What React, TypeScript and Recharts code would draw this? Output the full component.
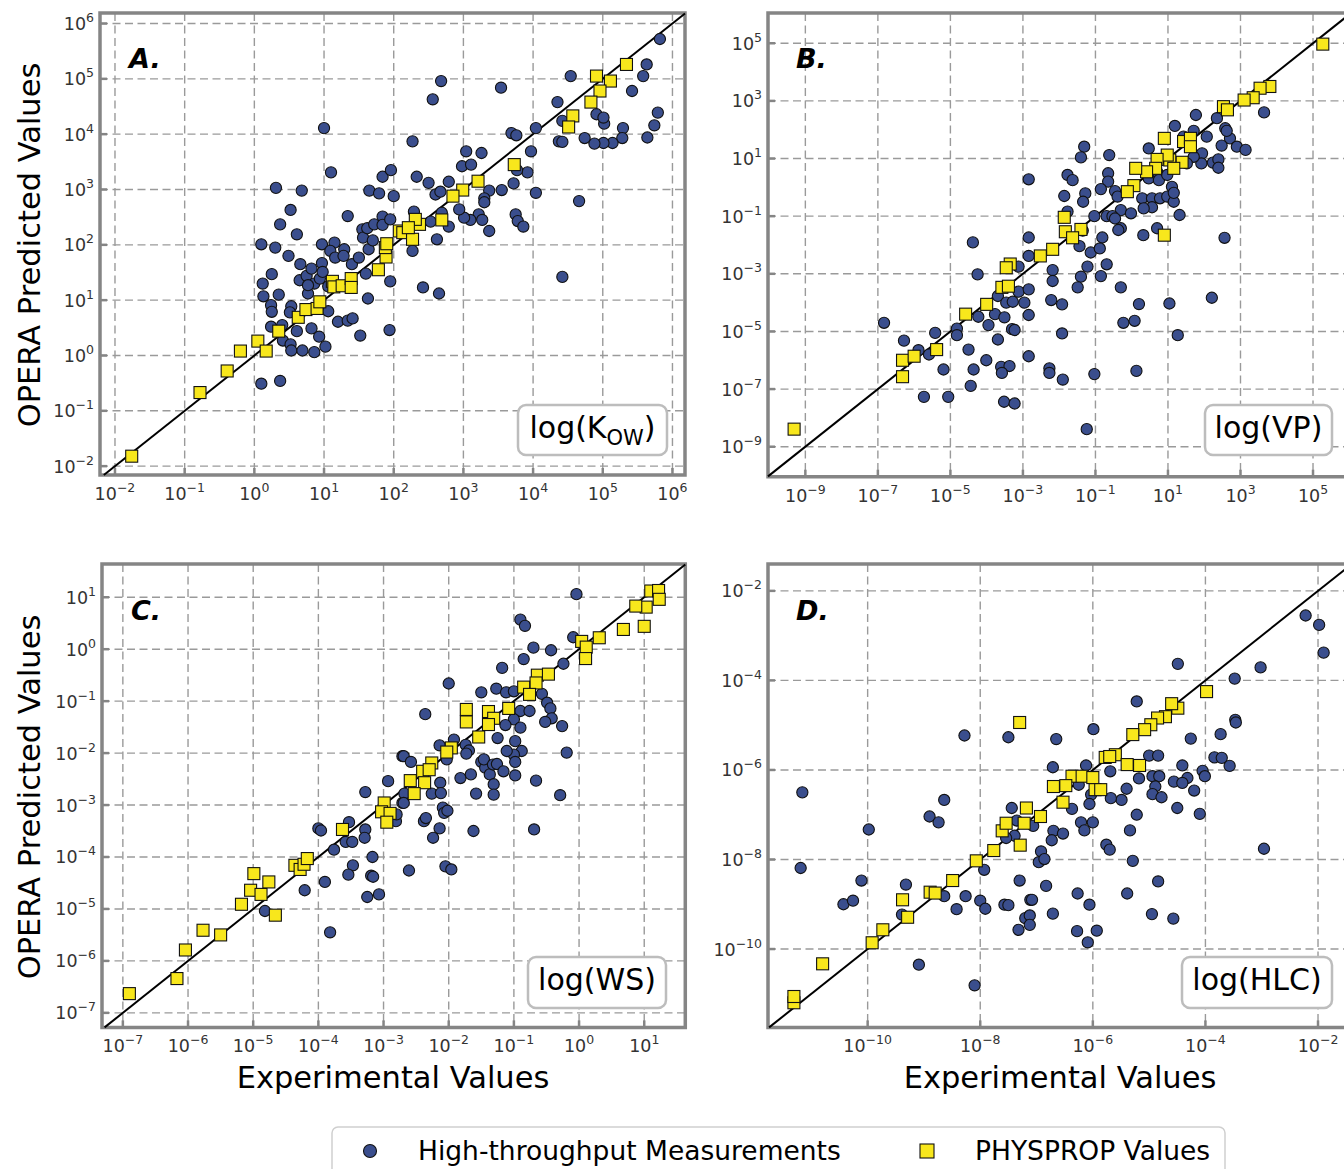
import React from "react";
import {
  CartesianGrid,
  ReferenceArea,
  ReferenceLine,
  Scatter,
  ScatterChart,
  XAxis,
  YAxis,
} from "recharts";

type Pt = [number, number];

// all values are log10 of the measured / predicted quantity

// A. log(Kow)
const kowTicks = [-2, -1, 0, 1, 2, 3, 4, 5, 6];
const kowMeasured: Pt[] = [
  [1.0, 4.11], [1.1, 3.31], [0.31, 3.03], [0.68, 2.98], [0.52, 2.63], [0.37, 2.37], [0.61, 2.19], [0.1, 2.01],
  [0.3, 1.95], [0.49, 1.8], [0.66, 1.65], [0.25, 1.47], [0.12, 1.3], [0.13, 1.07], [0.35, 1.1], [0.24, 0.91],
  [0.25, 0.79], [0.53, 0.89], [0.51, 0.78], [0.24, 0.52], [0.4, 0.55], [0.41, 0.27], [0.52, 0.2], [0.61, 0.44],
  [0.53, 0.09], [0.69, 0.09], [0.86, 0.06], [1.02, 0.16], [0.93, 0.34], [0.82, 0.49], [0.1, -0.51], [0.37, -0.46],
  [0.65, 1.36], [0.75, 1.44], [0.82, 1.57], [0.86, 1.3], [0.77, 1.12], [0.94, 1.39], [0.97, 1.67], [0.98, 1.51],
  [1.06, 1.25], [0.77, 1.27], [0.97, 2.01], [1.15, 2.04], [1.09, 1.89], [1.16, 1.77], [1.29, 1.92], [1.28, 1.8],
  [1.4, 1.65], [1.5, 1.77], [1.34, 2.52], [1.55, 2.28], [1.56, 2.13], [1.64, 1.92], [1.62, 2.3], [1.72, 2.37],
  [1.84, 2.51], [1.84, 2.36], [1.95, 2.46], [1.65, 2.98], [1.79, 2.93], [1.84, 3.23], [1.96, 3.35], [2.0, 2.88],
  [1.6, 1.48], [1.63, 1.03], [1.95, 1.34], [1.94, 0.46], [1.52, 0.36], [1.2, 0.61], [1.34, 0.63], [1.41, 0.67],
  [1.06, 0.8], [1.7, 2.08],
  [5.82, 5.72], [5.63, 5.26], [5.58, 5.05], [5.42, 4.78], [5.79, 4.39], [5.74, 4.16], [5.64, 3.94], [5.29, 4.11],
  [5.28, 3.93], [5.14, 3.84], [5.01, 3.84], [4.88, 3.83], [4.74, 3.93], [5.02, 4.19], [4.91, 4.36], [5.01, 4.3],
  [4.54, 5.05], [4.35, 4.58], [4.42, 4.24], [4.37, 3.87], [4.42, 3.86], [4.42, 1.42], [4.66, 2.79], [4.04, 4.11],
  [4.04, 2.94], [3.97, 3.69], [3.92, 3.31], [3.77, 3.35], [3.69, 4.02], [3.76, 3.98], [3.72, 3.11], [3.75, 2.55],
  [3.78, 2.43], [3.86, 2.33], [3.54, 4.84], [3.26, 3.66], [3.04, 3.69], [2.98, 3.42], [3.11, 3.45], [3.37, 2.98],
  [3.3, 2.84], [3.3, 2.77], [3.55, 2.99], [3.22, 2.55], [3.27, 2.45], [3.37, 2.25], [3.1, 2.45], [3.01, 2.49],
  [2.94, 2.64], [2.68, 4.96], [2.56, 4.63], [2.27, 3.87], [2.33, 3.23], [2.5, 3.12], [2.6, 2.91], [2.79, 3.14],
  [2.67, 2.96], [2.69, 2.58], [2.79, 2.33], [2.62, 2.1], [2.53, 2.42], [2.29, 2.6], [2.27, 1.89], [2.42, 1.23],
  [2.65, 1.12],
];
const kowPhysprop: Pt[] = [
  [-1.76, -1.82], [-0.78, -0.67], [-0.39, -0.28], [-0.2, 0.08], [0.05, 0.26], [0.17, 0.08], [0.35, 0.44],
  [0.63, 0.69], [0.74, 0.83], [0.9, 0.85], [0.94, 0.97], [1.12, 1.34], [1.14, 1.24], [1.26, 1.26], [1.39, 1.39],
  [1.39, 1.23], [1.78, 1.55], [1.89, 1.78], [1.88, 1.95], [1.9, 2.02], [2.08, 2.25],
  [5.34, 5.26], [4.91, 5.05], [5.11, 4.96], [4.96, 4.78], [4.83, 4.58], [4.57, 4.33], [4.51, 4.13], [3.73, 3.45],
  [3.21, 3.15], [2.99, 2.99], [2.85, 2.88], [2.69, 2.45], [2.37, 2.37], [2.31, 2.46], [2.13, 2.22], [2.27, 2.1],
  [2.21, 2.31],
];

// B. log(VP)
const vpTicks = [-9, -7, -5, -3, -1, 1, 3, 5];
const vpMeasured: Pt[] = [
  [-6.83, -4.7], [-6.28, -5.32], [-5.88, -5.65], [-5.59, -5.8], [-5.42, -5.05], [-5.19, -6.32], [-5.73, -7.27],
  [-5.06, -7.27], [-4.82, -4.9], [-4.82, -5.13], [-4.5, -5.63], [-4.44, -6.89], [-4.36, -6.32], [-4.38, -1.91],
  [-4.25, -3.02], [-4.23, -4.49], [-4.01, -6.0], [-3.95, -4.78], [-3.77, -4.4], [-3.69, -5.28], [-3.51, -4.51],
  [-3.69, -3.77], [-3.46, -4.0], [-3.28, -3.97], [-3.12, -3.62], [-2.96, -4.0], [-3.3, -4.92], [-3.23, -4.95],
  [-3.6, -6.23], [-3.37, -6.2], [-3.58, -6.44], [-3.52, -7.44], [-3.23, -7.5], [-3.12, -2.75], [-2.84, 0.28],
  [-2.84, -1.74], [-2.84, -2.38], [-2.84, -4.43], [-2.84, -5.86], [-2.84, -3.54],
  [-1.31, 1.41], [-1.4, 1.04], [-0.62, 1.12], [-1.77, 0.43], [-1.63, 0.25], [-0.65, 0.49], [-0.65, 0.2],
  [-0.85, -0.06], [-1.86, -0.3], [-1.28, -0.21], [-1.34, -0.5], [-1.77, -0.84], [-1.03, -1.0], [-0.69, -1.0],
  [-0.46, -0.13], [-0.39, -0.32], [-0.3, -0.79], [-0.53, -1.0], [-0.46, -1.08], [-0.02, -0.9], [-0.3, -1.42],
  [-0.37, -1.48], [-0.81, -1.74], [-1.35, -1.5], [-1.44, -2.04], [-1.13, -2.26], [-0.88, -2.12], [-1.22, -2.75],
  [-1.4, -3.1], [-0.85, -3.08], [-0.69, -2.67], [-1.49, -3.47], [-2.18, -2.87], [-2.18, -3.25], [-2.22, -3.91],
  [-1.92, -4.06], [-1.92, -5.07], [-2.27, -6.28], [-2.27, -6.44], [-1.9, -6.67], [-1.03, -6.48], [-1.24, -8.39],
  [-0.3, -3.47], [0.2, -4.05], [-0.23, -4.7], [0.08, -4.63], [1.27, -5.13], [1.04, -4.03], [0.13, -6.37],
  [2.21, -3.83], [2.56, -1.75], [0.32, -1.66], [0.7, -1.42], [0.29, -0.38], [0.56, -0.38], [0.78, -0.38],
  [0.98, -0.32], [1.16, -0.5], [1.32, -0.96], [0.56, -0.69], [0.33, -0.73], [0.47, 1.35], [0.47, 0.31],
  [0.7, 0.54], [0.75, 0.25], [0.98, 0.43], [1.11, 0.02], [1.16, -0.19], [1.19, 2.13], [1.43, 1.76], [1.71, 1.96],
  [1.77, 2.51], [2.07, 1.76], [1.94, 1.18], [1.92, 0.83], [2.24, 0.86], [2.39, 0.97], [2.39, 0.68], [2.35, 2.4],
  [2.58, 2.05], [2.71, 1.7], [2.48, 1.45], [2.9, 1.41], [3.14, 1.3], [2.62, 1.96], [3.65, 2.6], [1.71, 1.06],
  [1.52, 0.83],
];
const vpPhysprop: Pt[] = [
  [-9.31, -8.39], [-6.32, -6.57], [-6.32, -6.0], [-6.0, -5.86], [-5.38, -5.63], [-4.58, -4.4], [-4.0, -4.06],
  [-3.58, -3.47], [-3.4, -3.43], [-3.35, -2.66], [-3.46, -2.79],
  [5.27, 4.97], [3.81, 3.5], [3.54, 3.44], [3.35, 3.11], [3.1, 3.03], [2.53, 2.8], [2.64, 2.69], [0.9, 1.7],
  [1.43, 1.59], [1.62, 1.7], [1.62, 1.41], [1.39, 0.87], [1.05, 0.95], [0.98, 1.12], [1.16, 0.66], [0.7, 0.97],
  [0.66, 0.66], [0.41, 0.54], [0.11, 0.66], [0.06, 0.06], [-0.12, -0.15], [0.9, -1.66], [-1.86, -1.04],
  [-1.83, -1.54], [-1.4, -1.46], [-1.63, -1.75], [-2.18, -2.15], [-2.52, -2.38],
];

// C. log(WS)
const wsTicks = [-7, -6, -5, -4, -3, -2, -1, 0, 1];
const wsMeasured: Pt[] = [
  [-4.82, -5.04], [-4.21, -4.64], [-3.9, -4.48], [-3.82, -5.45], [-4.0, -3.45], [-3.96, -3.49], [-3.76, -3.86],
  [-3.53, -3.33], [-3.58, -3.71], [-3.48, -3.71], [-3.47, -4.16], [-3.54, -4.34], [-3.28, -2.75], [-3.28, -3.47],
  [-3.29, -3.63], [-3.17, -4.0], [-3.19, -4.36], [-3.16, -4.38], [-3.25, -4.77], [-3.07, -4.72], [-2.93, -2.54],
  [-2.81, -3.31], [-2.71, -2.06], [-2.71, -2.96],
  [-0.04, 1.06], [-0.9, 0.57], [-0.83, 0.45], [-0.7, 0.03], [-0.43, -0.02], [-0.85, -0.19], [-1.18, -0.36],
  [-0.24, -0.28], [-0.09, 0.23], [-2.0, -0.66], [-1.5, -0.83], [-1.27, -0.76], [-1.12, -0.83], [-1.0, -0.81],
  [-0.57, -0.86], [-0.49, -1.03], [-0.44, -1.14], [-0.42, -1.33], [-0.52, -1.4], [-0.26, -1.48], [-0.9, -1.19],
  [-0.76, -1.19], [-1.0, -1.35], [-0.9, -1.51], [-1.13, -1.46], [-1.25, -1.71], [-0.98, -1.77], [-0.88, -1.96],
  [-1.0, -2.03], [-1.11, -1.96], [-0.19, -1.99], [-2.36, -1.25], [-2.14, -1.85], [-1.74, -1.84], [-1.69, -1.95],
  [-2.03, -2.12], [-1.92, -1.74], [-2.69, -2.06], [-2.58, -2.17], [-1.82, -2.48], [-1.66, -2.41], [-1.5, -2.17],
  [-1.44, -2.28], [-1.37, -2.41], [-1.31, -2.6], [-1.31, -2.8], [-1.46, -2.12], [-1.32, -2.22], [-1.26, -2.21],
  [-1.16, -2.35], [-0.98, -2.43], [-0.98, -2.17], [-0.66, -2.53], [-0.29, -2.81], [-1.58, -2.78], [-0.69, -3.47],
  [-1.62, -3.5], [-2.09, -3.05], [-2.07, -3.15], [-2.02, -3.11], [-2.14, -3.45], [-2.24, -3.63], [-2.38, -3.31],
  [-2.35, -3.25], [-2.61, -4.26], [-2.05, -4.18], [-1.96, -4.24], [-2.13, -2.57], [-2.26, -2.78], [-2.12, -2.77],
  [-2.68, -2.78], [-2.69, -2.96], [-2.8, -3.18], [-1.73, -2.01],
];
const wsPhysprop: Pt[] = [
  [-6.9, -6.63], [-6.17, -6.34], [-6.04, -5.79], [-5.77, -5.41], [-5.5, -5.5], [-5.18, -4.91], [-5.04, -4.64],
  [-4.99, -4.32], [-4.88, -4.72], [-4.76, -4.48], [-4.66, -5.12], [-4.36, -4.16], [-4.28, -4.24], [-4.22, -4.14],
  [-4.17, -4.03], [-3.63, -3.47], [-2.99, -2.96], [-3.03, -3.13], [-2.9, -3.16], [-2.95, -3.33],
  [1.1, 1.12], [1.22, 1.13], [1.23, 0.96], [1.03, 0.81], [0.87, 0.83], [1.0, 0.44], [0.68, 0.38], [0.31, 0.22],
  [0.04, 0.15], [0.11, 0.04], [0.1, -0.18], [-0.64, -0.5], [-0.47, -0.48], [-0.66, -0.65], [-0.85, -0.73],
  [-0.76, -0.87], [-1.08, -1.14], [-1.73, -1.16], [-1.73, -1.4], [-1.39, -1.2], [-1.31, -1.33], [-1.39, -1.45],
  [-1.54, -1.69], [-1.96, -1.9], [-2.03, -1.98], [-2.26, -2.19], [-2.4, -2.35], [-2.3, -2.32], [-2.37, -2.57],
  [-2.59, -2.53], [-2.53, -2.78],
];

// D. log(HLC)
const hlcTicks = [-10, -8, -6, -4, -2];
const hlcMeasured: Pt[] = [
  [-11.16, -6.5], [-11.19, -8.19], [-9.98, -7.33], [-10.11, -8.47], [-10.43, -9.0], [-10.26, -8.92],
  [-9.32, -8.56], [-9.39, -9.23], [-9.09, -10.35], [-8.1, -10.81], [-8.9, -7.04], [-8.74, -7.17], [-8.64, -6.67],
  [-8.28, -5.23], [-7.5, -5.27], [-8.64, -8.82], [-8.42, -9.11], [-8.26, -8.82], [-8.0, -8.92], [-7.91, -9.1],
  [-7.93, -8.23], [-7.3, -8.47], [-7.57, -9.01], [-7.5, -9.02], [-7.2, -9.31], [-7.32, -9.57], [-7.44, -6.85],
  [-7.35, -7.13], [-7.39, -7.47], [-7.54, -7.52], [-7.11, -8.9],
  [-2.22, -2.55], [-1.98, -2.76], [-1.9, -3.38], [-3.02, -3.71], [-3.48, -3.96], [-4.49, -3.63], [-5.22, -4.47],
  [-3.47, -4.88], [-3.46, -4.94], [-3.73, -5.2], [-4.26, -5.3], [-3.84, -5.72], [-3.71, -5.73], [-3.57, -5.91],
  [-4.05, -6.02], [-4.01, -6.14], [-4.41, -5.9], [-4.32, -6.18], [-4.56, -6.26], [-4.41, -6.29], [-4.2, -6.46],
  [-4.1, -6.98], [-4.5, -6.85], [-5.0, -5.68], [-4.84, -5.68], [-4.94, -6.14], [-4.82, -6.14], [-4.89, -6.37],
  [-4.94, -6.54], [-4.78, -6.61], [-5.18, -6.19], [-5.4, -6.42], [-5.49, -6.67], [-5.68, -6.63], [-5.69, -6.03],
  [-5.22, -7.0], [-5.34, -7.35], [-5.29, -8.03], [-5.76, -7.67], [-5.7, -7.78], [-4.84, -8.49], [-5.39, -8.76],
  [-4.95, -9.22], [-4.57, -9.32], [-2.96, -7.76], [-5.99, -5.09], [-6.12, -5.9], [-6.65, -5.31], [-6.71, -5.94],
  [-6.03, -6.55], [-6.06, -6.76], [-6.25, -6.33], [-6.37, -6.87], [-6.21, -7.17], [-6.0, -7.17], [-6.15, -7.35],
  [-6.7, -7.36], [-6.53, -7.42], [-6.73, -7.57], [-7.06, -7.25], [-6.92, -7.82], [-6.96, -8.06], [-6.86, -7.99],
  [-6.83, -8.59], [-7.08, -8.9], [-7.12, -9.25], [-7.12, -9.46], [-6.71, -9.21], [-6.27, -8.76], [-6.06, -9.01],
  [-6.28, -9.6], [-5.93, -9.59], [-6.09, -9.85],
];
const hlcPhysprop: Pt[] = [
  [-11.31, -11.2], [-11.31, -11.06], [-10.8, -10.33], [-9.92, -9.86], [-9.73, -9.57], [-9.29, -9.29],
  [-9.38, -8.9], [-8.89, -8.73], [-8.8, -8.75], [-8.49, -8.47], [-8.07, -8.03], [-7.76, -7.8], [-7.61, -7.36],
  [-7.54, -7.19], [-7.29, -7.68], [-7.22, -7.19], [-7.18, -6.85], [-7.3, -4.94],
  [-3.98, -4.25], [-4.49, -4.62], [-4.6, -4.52], [-4.71, -4.81], [-4.85, -4.84], [-4.97, -4.99], [-5.08, -5.1],
  [-5.29, -5.21], [-5.6, -5.66], [-5.78, -5.72], [-5.7, -5.7], [-5.39, -5.88], [-5.17, -5.9], [-6.37, -6.14],
  [-6.19, -6.14], [-6.0, -6.17], [-6.7, -6.37], [-6.48, -6.35], [-6.53, -6.72], [-5.96, -6.44], [-5.86, -6.44],
  [-6.93, -7.04],
];

const BLUE = "#3a4e8d";
const YELLOW = "#f8e71c";
const FRAME = "#858585";
const FONT = "DejaVu Sans, sans-serif";

const Y_W = 70;
const M_T = 8;
const M_R = 8;
const X_H = 40;

const panels = [
  {
    id: "A", left: 100, right: 685, top: 13, bottom: 475,
    xDomain: [-2.215, 6.18], yDomain: [-2.16, 6.19], xTicks: kowTicks, yTicks: kowTicks,
    measured: kowMeasured, physprop: kowPhysprop,
  },
  {
    id: "B", left: 768.3, right: 1351.4, top: 13, bottom: 476.7,
    xDomain: [-10.03, 6.05], yDomain: [-10.04, 6.05], xTicks: vpTicks, yTicks: vpTicks,
    measured: vpMeasured, physprop: vpPhysprop,
  },
  {
    id: "C", left: 101.7, right: 685, top: 564.3, bottom: 1027.7,
    xDomain: [-7.32, 1.63], yDomain: [-7.28, 1.64], xTicks: wsTicks, yTicks: wsTicks,
    measured: wsMeasured, physprop: wsPhysprop,
  },
  {
    id: "D", left: 768.3, right: 1352.1, top: 564.3, bottom: 1027.7,
    xDomain: [-11.77, -1.4], yDomain: [-11.75, -1.4], xTicks: hlcTicks, yTicks: hlcTicks,
    measured: hlcMeasured, physprop: hlcPhysprop,
  },
];

const expo = (v: number) => (v < 0 ? "\u2212" + Math.abs(v) : String(v));

const dot = (props: any) => (
  <circle cx={props.cx} cy={props.cy} r={5.6} fill={BLUE} stroke="#111" strokeWidth={1.1} />
);
const square = (props: any) => (
  <rect x={props.cx - 6} y={props.cy - 6} width={12} height={12} fill={YELLOW} stroke="#111" strokeWidth={1.1} />
);
const noLabel = () => <g />;
const inTick = { stroke: FRAME, strokeWidth: 2.5 };

const Panel = ({ p }: { p: any }) => {
  const w = p.right - p.left;
  const h = p.bottom - p.top;
  const lo = Math.max(p.xDomain[0], p.yDomain[0]);
  const hi = Math.min(p.xDomain[1], p.yDomain[1]);
  const toObj = (arr: Pt[]) => arr.map(([x, y]) => ({ x, y }));

  const xTick = (props: any) => (
    <text key={"x" + props.payload.value} x={props.x} y={M_T + h + 25} textAnchor="middle"
      fontSize={17.5} fill="#333" fontFamily={FONT}>
      10<tspan dy={-8} fontSize={12.5}>{expo(props.payload.value)}</tspan>
    </text>
  );
  const yTick = (props: any) => (
    <text key={"y" + props.payload.value} x={Y_W - 6} y={props.y + 6.5} textAnchor="end"
      fontSize={17.5} fill="#333" fontFamily={FONT}>
      10<tspan dy={-8} fontSize={12.5}>{expo(props.payload.value)}</tspan>
    </text>
  );

  return (
    <div style={{ position: "absolute", left: p.left - Y_W, top: p.top - M_T }}>
      <ScatterChart width={Y_W + w + M_R} height={M_T + h + X_H}
        margin={{ top: M_T, right: M_R, bottom: 0, left: 0 }}>
        <CartesianGrid stroke="#9a9a9a" strokeDasharray="8 4.5" strokeWidth={1.4} />
        <XAxis type="number" dataKey="x" domain={p.xDomain} ticks={p.xTicks} allowDataOverflow
          height={X_H} tickLine={inTick} axisLine={false} tickSize={-7} interval={0} tick={xTick} />
        <XAxis xAxisId="top" orientation="top" type="number" dataKey="x" domain={p.xDomain} ticks={p.xTicks}
          allowDataOverflow height={0} tickLine={inTick} axisLine={false} tickSize={-7} interval={0} tick={noLabel} />
        <YAxis type="number" dataKey="y" domain={p.yDomain} ticks={p.yTicks} allowDataOverflow
          width={Y_W} tickLine={inTick} axisLine={false} tickSize={-7} interval={0} tick={yTick} />
        <YAxis yAxisId="right" orientation="right" type="number" dataKey="y" domain={p.yDomain} ticks={p.yTicks}
          allowDataOverflow width={0} tickLine={inTick} axisLine={false} tickSize={-7} interval={0} tick={noLabel} />
        <ReferenceLine segment={[{ x: lo, y: lo }, { x: hi, y: hi }]} stroke="#000" strokeWidth={2}
          ifOverflow="visible" />
        <Scatter data={toObj(p.measured)} shape={dot} isAnimationActive={false} />
        <Scatter data={toObj(p.physprop)} shape={square} isAnimationActive={false} />
        <ReferenceArea x1={p.xDomain[0]} x2={p.xDomain[1]} y1={p.yDomain[0]} y2={p.yDomain[1]}
          fill="none" fillOpacity={0} stroke={FRAME} strokeWidth={3.5} ifOverflow="visible" />
      </ScatterChart>
    </div>
  );
};

const boxes = [
  { x: 518, y: 405, w: 149, h: 50, cx: 592.5, main: "log(K", sub: "OW" },
  { x: 1205, y: 405, w: 127, h: 50, cx: 1268.5, main: "log(VP)", sub: "" },
  { x: 528, y: 957, w: 138, h: 51, cx: 597, main: "log(WS)", sub: "" },
  { x: 1182, y: 957, w: 150, h: 51, cx: 1257, main: "log(HLC)", sub: "" },
];

const letters = [
  { t: "A.", x: 129, y: 68 },
  { t: "B.", x: 796, y: 68 },
  { t: "C.", x: 131, y: 620 },
  { t: "D.", x: 796, y: 620 },
];

export default function App() {
  return (
    <div style={{ position: "fixed", left: 0, top: 0, width: 1344, height: 1169, overflow: "hidden", background: "#fff" }}>
      {panels.map((p) => (
        <Panel key={p.id} p={p} />
      ))}
      <svg width={1344} height={1169} style={{ position: "absolute", left: 0, top: 0, pointerEvents: "none" }}
        fontFamily={FONT}>
        {letters.map((l) => (
          <text key={l.t} x={l.x} y={l.y} fontSize={27} fontWeight="bold" fontStyle="italic" fill="#000">{l.t}</text>
        ))}
        {boxes.map((b) => (
          <g key={b.main}>
            <rect x={b.x} y={b.y} width={b.w} height={b.h} rx={8} fill="#fff" stroke="#bdbdbd" strokeWidth={2.5} />
            <text x={b.cx} y={b.y + 33} textAnchor="middle" fontSize={30} fill="#000">
              {b.main}
              {b.sub && (
                <>
                  <tspan dy={7} fontSize={21}>{b.sub}</tspan>
                  <tspan dy={-7}>)</tspan>
                </>
              )}
            </text>
          </g>
        ))}
        <text transform="translate(40,245) rotate(-90)" textAnchor="middle" fontSize={30.5} fill="#000">
          OPERA Predicted Values
        </text>
        <text transform="translate(40,797) rotate(-90)" textAnchor="middle" fontSize={30.5} fill="#000">
          OPERA Predicted Values
        </text>
        <text x={393} y={1088} textAnchor="middle" fontSize={30.5} fill="#000">Experimental Values</text>
        <text x={1060} y={1088} textAnchor="middle" fontSize={30.5} fill="#000">Experimental Values</text>
        <rect x={332} y={1127} width={893} height={70} rx={6} fill="#fff" stroke="#cfcfcf" strokeWidth={1.5} />
        <circle cx={370} cy={1151} r={6.5} fill={BLUE} stroke="#111" strokeWidth={1.1} />
        <text x={418} y={1160} fontSize={26.5} fill="#000">High-throughput Measurements</text>
        <rect x={920} y={1144} width={14} height={14} fill={YELLOW} stroke="#111" strokeWidth={1.1} />
        <text x={975} y={1160} fontSize={26.5} fill="#000">PHYSPROP Values</text>
      </svg>
    </div>
  );
}
